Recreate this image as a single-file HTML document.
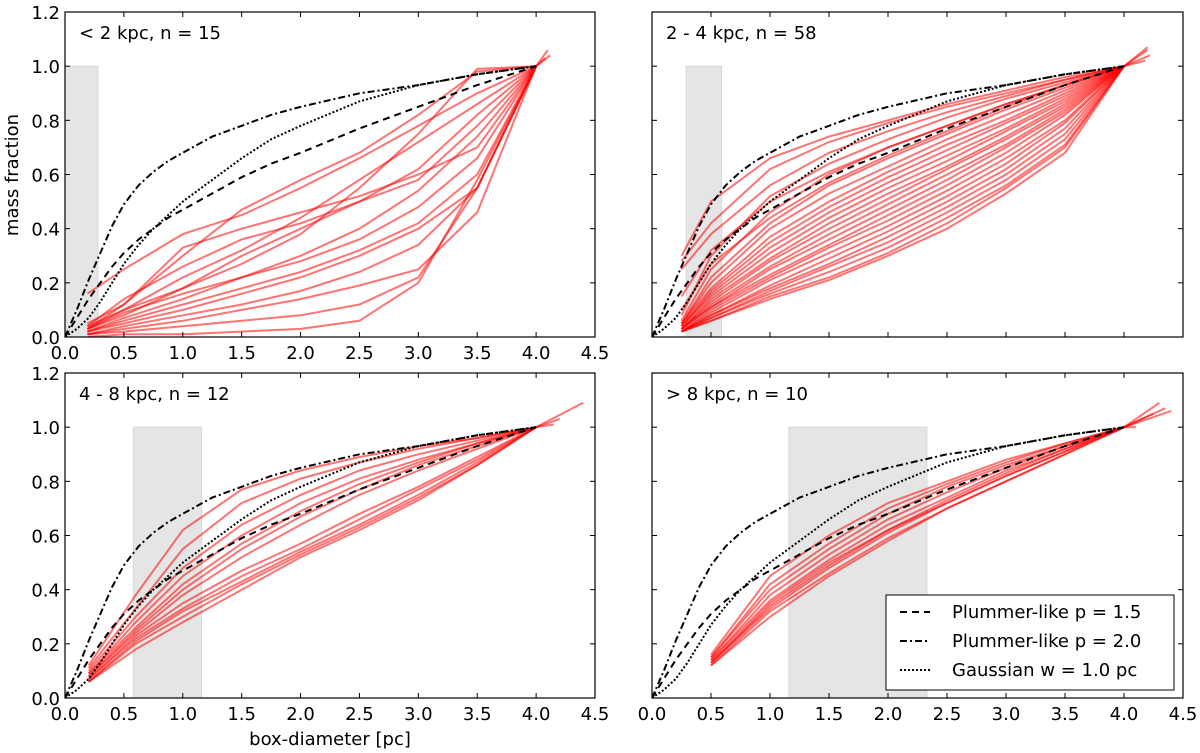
<!DOCTYPE html>
<html><head><meta charset="utf-8">
<style>
body{margin:0;background:#fff;}
svg{display:block;font-family:"DejaVu Sans","Liberation Sans",sans-serif;}
</style></head>
<body>
<svg id="fig" width="1200" height="753" viewBox="0 0 1200 753"></svg>
<script>
// model curves (same in all panels)
const modelX = [0,0.1,0.2,0.3,0.4,0.5,0.625,0.75,0.875,1.0,1.25,1.5,1.75,2.0,2.5,3.0,3.5,4.0];
const plummer15 = [0,0.07,0.14,0.20,0.26,0.31,0.36,0.40,0.44,0.47,0.53,0.59,0.64,0.68,0.77,0.85,0.93,1.0];
const plummer20 = [0,0.10,0.21,0.31,0.41,0.49,0.56,0.61,0.65,0.68,0.74,0.78,0.82,0.85,0.90,0.93,0.97,1.0];
const gaussian = [0,0.03,0.07,0.13,0.20,0.27,0.34,0.40,0.45,0.50,0.58,0.66,0.73,0.78,0.87,0.93,0.97,1.0];

const p1X = [0.19,0.5,1.0,1.5,2.0,2.5,3.0,3.5,4.0];
const p1Curves = [
 [0.16,0.25,0.38,0.45,0.55,0.66,0.78,0.90,1.0],
 [0.05,0.12,0.30,0.47,0.58,0.68,0.82,0.98,1.0],
 [0.04,0.10,0.18,0.27,0.38,0.55,0.75,0.99,1.0],
 [0.04,0.14,0.26,0.36,0.42,0.50,0.58,0.78,1.0],
 [0.03,0.08,0.18,0.30,0.40,0.50,0.62,0.82,1.0],
 [0.03,0.12,0.33,0.40,0.46,0.52,0.60,0.70,1.0],
 [0.02,0.07,0.14,0.22,0.30,0.40,0.54,0.74,1.0],
 [0.03,0.09,0.16,0.22,0.28,0.36,0.48,0.66,1.0],
 [0.02,0.06,0.12,0.18,0.24,0.32,0.42,0.60,1.0],
 [0.02,0.05,0.10,0.16,0.22,0.30,0.40,0.55,1.0],
 [0.01,0.04,0.08,0.12,0.17,0.24,0.34,0.55,1.0],
 [0.01,0.03,0.06,0.10,0.14,0.19,0.25,0.46,1.0],
 [0.01,0.02,0.04,0.06,0.08,0.12,0.22,0.55,1.0],
 [0.0,0.01,0.01,0.02,0.03,0.06,0.20,0.58,1.0],
 [0.03,0.10,0.22,0.32,0.44,0.58,0.72,0.86,1.0]
];
const p2X = [0.25,0.5,1.0,1.5,2.0,2.5,3.0,3.5,4.0];
const p2Curves = [
 [0.30,0.50,0.66,0.74,0.80,0.86,0.91,0.96,1.0],
 [0.28,0.42,0.62,0.72,0.79,0.85,0.90,0.95,1.0],
 [0.25,0.38,0.56,0.68,0.76,0.83,0.89,0.95,1.0],
 [0.08,0.30,0.52,0.64,0.73,0.81,0.88,0.94,1.0],
 [0.06,0.25,0.46,0.60,0.70,0.78,0.86,0.93,1.0],
 [0.05,0.22,0.42,0.56,0.66,0.75,0.84,0.92,1.0],
 [0.05,0.20,0.40,0.53,0.63,0.73,0.82,0.91,1.0],
 [0.05,0.18,0.37,0.50,0.61,0.71,0.80,0.90,1.0],
 [0.04,0.17,0.35,0.48,0.59,0.69,0.79,0.89,1.0],
 [0.04,0.16,0.33,0.46,0.57,0.67,0.77,0.88,1.0],
 [0.04,0.15,0.31,0.44,0.55,0.65,0.76,0.87,1.0],
 [0.03,0.14,0.29,0.42,0.53,0.63,0.74,0.86,1.0],
 [0.03,0.13,0.28,0.40,0.51,0.62,0.73,0.85,1.0],
 [0.03,0.12,0.26,0.38,0.49,0.60,0.71,0.84,1.0],
 [0.03,0.11,0.25,0.36,0.47,0.58,0.70,0.83,1.0],
 [0.03,0.11,0.23,0.34,0.45,0.56,0.68,0.82,1.0],
 [0.02,0.10,0.22,0.33,0.43,0.54,0.66,0.80,1.0],
 [0.02,0.09,0.21,0.31,0.41,0.52,0.64,0.79,1.0],
 [0.02,0.08,0.19,0.29,0.39,0.50,0.62,0.77,1.0],
 [0.02,0.08,0.18,0.27,0.37,0.48,0.60,0.75,1.0],
 [0.02,0.07,0.17,0.26,0.35,0.46,0.58,0.73,1.0],
 [0.02,0.07,0.16,0.24,0.33,0.44,0.56,0.71,1.0],
 [0.02,0.06,0.15,0.22,0.31,0.42,0.55,0.70,1.0],
 [0.02,0.06,0.14,0.21,0.30,0.40,0.53,0.68,1.0],
 [0.15,0.32,0.50,0.61,0.70,0.78,0.86,0.93,1.0],
 [0.10,0.27,0.44,0.57,0.67,0.76,0.85,0.93,1.0]
];
const p3X = [0.2,0.6,1.0,1.5,2.0,2.5,3.0,3.5,4.0];
const p3Curves = [
 [0.12,0.38,0.62,0.77,0.84,0.89,0.93,0.96,1.0],
 [0.11,0.33,0.55,0.72,0.81,0.87,0.92,0.96,1.0],
 [0.10,0.30,0.48,0.64,0.75,0.84,0.90,0.95,1.0],
 [0.09,0.28,0.45,0.60,0.72,0.81,0.88,0.94,1.0],
 [0.09,0.26,0.42,0.57,0.69,0.79,0.87,0.94,1.0],
 [0.08,0.25,0.40,0.55,0.67,0.77,0.86,0.93,1.0],
 [0.08,0.24,0.38,0.52,0.64,0.75,0.84,0.92,1.0],
 [0.07,0.23,0.35,0.47,0.57,0.68,0.78,0.89,1.0],
 [0.07,0.22,0.33,0.45,0.55,0.66,0.77,0.88,1.0],
 [0.06,0.21,0.32,0.43,0.54,0.64,0.75,0.87,1.0],
 [0.06,0.20,0.30,0.42,0.53,0.63,0.74,0.86,1.0],
 [0.06,0.18,0.28,0.40,0.52,0.62,0.73,0.86,1.0]
];
const p4X = [0.5,1.0,1.5,2.0,2.5,3.0,3.5,4.0];
const p4Curves = [
 [0.16,0.45,0.60,0.72,0.80,0.88,0.94,1.0],
 [0.15,0.42,0.57,0.70,0.79,0.87,0.94,1.0],
 [0.15,0.40,0.55,0.68,0.78,0.86,0.93,1.0],
 [0.14,0.38,0.53,0.66,0.76,0.85,0.93,1.0],
 [0.14,0.36,0.51,0.64,0.74,0.84,0.92,1.0],
 [0.13,0.35,0.50,0.62,0.73,0.83,0.92,1.0],
 [0.13,0.33,0.48,0.61,0.72,0.82,0.91,1.0],
 [0.12,0.32,0.46,0.59,0.70,0.80,0.90,1.0],
 [0.12,0.30,0.45,0.58,0.70,0.80,0.90,1.0],
 [0.13,0.34,0.49,0.62,0.72,0.82,0.91,1.0]
];
const p1Tail = [[4.1,1.06],[4.08,1.03],[4.12,1.04]];
const p2Tail = [[4.2,1.07],[4.22,1.04],[4.18,1.02],[4.2,1.06]];
const p3Tail = [[4.4,1.09],[4.2,1.03],[4.15,1.01]];
const p4Tail = [[4.3,1.09],[4.35,1.07],[4.25,1.05],[4.4,1.06],[4.1,1.0]];
const xTicks = [0.0,0.5,1.0,1.5,2.0,2.5,3.0,3.5,4.0,4.5];
const yTicks = [0.0,0.2,0.4,0.6,0.8,1.0,1.2];

const panels = [
 {name:'panel-lt-2kpc',x0:65,x1:595,y0:12,y1:337,title:'< 2 kpc, n = 15',shade:[0,0.28],X:p1X,C:p1Curves,T:p1Tail,yl:true,xl:true,leg:false},
 {name:'panel-2-4kpc',x0:652,x1:1183,y0:12,y1:337,title:'2 - 4 kpc, n = 58',shade:[0.29,0.59],X:p2X,C:p2Curves,T:p2Tail,yl:false,xl:false,leg:false},
 {name:'panel-4-8kpc',x0:65,x1:595,y0:373,y1:698,title:'4 - 8 kpc, n = 12',shade:[0.58,1.16],X:p3X,C:p3Curves,T:p3Tail,yl:true,xl:true,leg:false},
 {name:'panel-gt-8kpc',x0:652,x1:1183,y0:373,y1:698,title:'> 8 kpc, n = 10',shade:[1.16,2.33],X:p4X,C:p4Curves,T:p4Tail,yl:false,xl:true,leg:true}
];
const NS='http://www.w3.org/2000/svg';
const svg=document.getElementById('fig');
function mk(tag,attrs,parent){const e=document.createElementNS(NS,tag);for(const k in attrs)e.setAttribute(k,attrs[k]);(parent||svg).appendChild(e);return e;}
panels.forEach(p=>{
 const g=mk('g',{});
 
 
 const sx=v=>p.x0+(v/4.5)*(p.x1-p.x0);
 const sy=v=>p.y1-(v/1.2)*(p.y1-p.y0);
 const clipId='c'+p.name;
 const cp=mk('clipPath',{id:clipId},g);mk('rect',{x:p.x0,y:p.y0,width:p.x1-p.x0,height:p.y1-p.y0},cp);
 const sh=mk('rect',{x:sx(p.shade[0]),y:sy(1),width:sx(p.shade[1])-sx(p.shade[0]),height:sy(0)-sy(1),fill:'#e5e5e5',stroke:'#d8d8d8'},g);
 
 
 const cg=mk('g',{'clip-path':'url(#'+clipId+')'},g);
 p.C.forEach(c=>{
  const d=c.map((v,i)=>(i?'L':'M')+sx(p.X[i]).toFixed(1)+','+sy(v).toFixed(1)).join('');
  const l=mk('path',{d:d,fill:'none',stroke:'#ff0000','stroke-opacity':0.55,'stroke-width':2},cg);
  
  
 });
 p.T.forEach(t=>{
  const l=mk('path',{d:'M'+sx(4)+','+sy(1)+'L'+sx(t[0])+','+sy(t[1]),stroke:'#ff0000','stroke-opacity':0.55,'stroke-width':2},cg);
  
  
 });
 [[plummer15,'7,5','plummer-1.5-curve'],[plummer20,'7,3,2,3','plummer-2.0-curve'],[gaussian,'2,2','gaussian-curve']].forEach(m=>{
  const d=m[0].map((v,i)=>(i?'L':'M')+sx(modelX[i]).toFixed(1)+','+sy(v).toFixed(1)).join('');
  const l=mk('path',{d:d,fill:'none',stroke:'#000','stroke-width':2,'stroke-dasharray':m[1]},cg);
  
  
 });
 const fr=mk('rect',{x:p.x0,y:p.y0,width:p.x1-p.x0,height:p.y1-p.y0,fill:'none',stroke:'#000','stroke-width':1.2},g);
 
 
 xTicks.forEach(t=>{
  mk('line',{x1:sx(t),x2:sx(t),y1:p.y1,y2:p.y1-5,stroke:'#000'},g);
  mk('line',{x1:sx(t),x2:sx(t),y1:p.y0,y2:p.y0+5,stroke:'#000'},g);
  if(p.xl){const tx=mk('text',{x:sx(t),y:p.y1+22,'font-size':18,'text-anchor':'middle'},g);tx.textContent=t.toFixed(1);
   
   }
 });
 yTicks.forEach(t=>{
  mk('line',{x1:p.x0,x2:p.x0+5,y1:sy(t),y2:sy(t),stroke:'#000'},g);
  mk('line',{x1:p.x1,x2:p.x1-5,y1:sy(t),y2:sy(t),stroke:'#000'},g);
  if(p.yl){const ty=mk('text',{x:p.x0-5,y:sy(t)+7,'font-size':18,'text-anchor':'end'},g);ty.textContent=t.toFixed(1);
   
   }
 });
 const tt=mk('text',{x:p.x0+14,y:p.y0+27,'font-size':18},g);tt.textContent=p.title;
 
 
 if(p.leg){
  const lg=mk('g',{},g);
  
  
  mk('rect',{x:886,y:595,width:288,height:95,fill:'#fff',stroke:'#000'},lg);
  [['Plummer-like p = 1.5','7,5',612],['Plummer-like p = 2.0','7,3,2,3',641],['Gaussian w = 1.0 pc','2,2',670]].forEach(e=>{
   const le=mk('g',{},lg);
   
   
   mk('line',{x1:900,x2:930,y1:e[2],y2:e[2],stroke:'#000','stroke-width':2,'stroke-dasharray':e[1]},le);
   const t=mk('text',{x:952,y:e[2]+6,'font-size':18},le);t.textContent=e[0];
  });
 }
});
const xt=mk('text',{x:330,y:745,'font-size':18,'text-anchor':'middle'});xt.textContent='box-diameter [pc]';


const yt=mk('text',{x:0,y:0,'font-size':18,'text-anchor':'middle',transform:'translate(18,175) rotate(-90)'});yt.textContent='mass fraction';


</script>
</body></html>
